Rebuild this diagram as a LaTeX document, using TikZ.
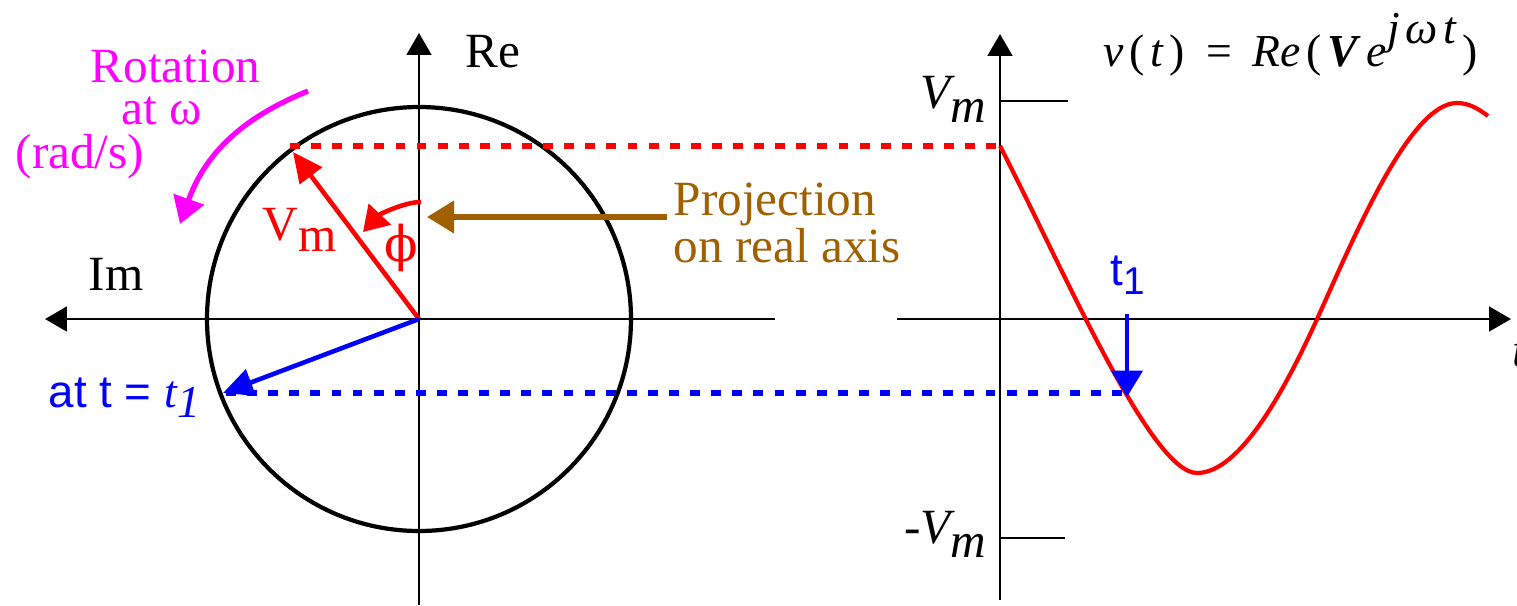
\documentclass[tikz,border=0pt]{standalone}
\usepackage{fontspec}
\setmainfont{Liberation Serif}
\setsansfont{Liberation Sans}
\newfontfamily\phifont{DejaVu Serif}
\usetikzlibrary{arrows.meta}
\definecolor{phred}{RGB}{255,0,0}
\definecolor{phblue}{RGB}{0,0,255}
\definecolor{rotmag}{RGB}{255,0,255}
\definecolor{projbrown}{RGB}{160,96,0}
\newcommand{\ls}{\hspace{1.6pt}}

\begin{document}
\begin{tikzpicture}[x=0.01cm, y=-0.01cm,
  axis/.style={-{Triangle[length=6.2pt,width=7pt]}, line width=0.7pt},
  phasor/.style={-{Triangle[length=8.5pt,width=7.8pt]}, line width=1.3pt},
  projline/.style={line width=1.5pt, dash pattern=on 2.8pt off 3.2pt},
  lbl/.style={inner sep=0pt, anchor=base west, font=\fontsize{14}{16}\selectfont},
  lble/.style={lbl, anchor=base east},
]
\useasboundingbox (0,0) rectangle (1517,605);

\coordinate (O) at (419,319);
\coordinate (imtip) at (45,319);
\coordinate (imend) at (775,319);
\coordinate (retip) at (419,33);
\coordinate (rebot) at (419,605);
\coordinate (vtip) at (293,152);
\coordinate (btip) at (223,393);
\coordinate (vstart) at (290,146);
\coordinate (c0) at (1000,146);
\coordinate (bstart) at (226,393);
\coordinate (c1) at (1124,393);
\coordinate (phis) at (421,202);
\coordinate (phie) at (363,232);
\coordinate (projs) at (667,217);
\coordinate (proje) at (427,217);
\coordinate (rots) at (308,91);
\coordinate (rote) at (180,224);
\coordinate (tstart) at (897,319);
\coordinate (ttip) at (1511,319);
\coordinate (vbot) at (1000,600);
\coordinate (vtop) at (1000,34);
\coordinate (t1top) at (1127,314);
\coordinate (t1pt) at (1127,397);

\node[lbl, rotmag] (rot1) at (90,82) {Rotation};
\node[lbl, rotmag] (rot2) at (121,124) {at ω};
\node[lbl, rotmag] (rot3) at (15,168) {(rad/s)};
\node[lbl] (relbl) at (465,67) {Re};
\node[lbl] (imlbl) at (88,290) {Im};
\node[lbl, phred] (vmlbl) at (262,240) {V\raisebox{-3.4pt}{m}};
\node[lbl, phred, anchor=center] (philbl) at (401,248) {\phifont ϕ};
\node[lbl, projbrown] (proj1) at (673,215) {Projection};
\node[lbl, projbrown] (proj2) at (673,262) {on real axis};
\node[lbl, phblue, font=\fontsize{13}{15}\selectfont\sffamily] (atlbl) at (48,407)
  {at t = \textrm{\textit{t}\raisebox{-3pt}{\textit{1}}}};

\node[lble] (vmax) at (987,108) {\textit{V\raisebox{-4pt}{m}}};
\node[lble] (vmin) at (987,543) {\textit{-V\raisebox{-4pt}{m}}};
\node[lbl] (tlbl) at (1512,366) {\textit{t}};
\node[lbl, phblue, font=\fontsize{13}{15}\selectfont\sffamily] (t1lbl) at (1110,285)
  {t\raisebox{-2.8pt}{\fontsize{11}{13}\selectfont 1}};
\node[lbl, font=\fontsize{13}{15}\selectfont] (vtlbl) at (1103,66)
  {\textit{v}\ls(\ls\textit{t}\ls)\hspace{6pt}=\hspace{6pt}\textit{Re}\ls(\ls\textbf{\textit{V}}\ls\textit{e}\raisebox{6.5pt}{\textit{j}\ls\textit{ω}\ls\textit{t}}\ls)};

\draw[axis] (imend) -- (imtip);
\draw[axis] (rebot) -- (retip);
\draw[line width=1.2pt] (O) circle[radius=212];
\draw[projline, phred] (vstart) -- (c0);
\draw[projline, phblue] (bstart) -- (c1);
\draw[phasor, phred] (O) -- (vtip);
\draw[phasor, phblue] (O) -- (btip);
\draw[-{Triangle[length=7pt,width=8.5pt]}, line width=1.3pt, phred]
  (phis) .. controls (405,202) and (380,214) .. (phie);
\draw[-{Triangle[length=7.7pt,width=9pt]}, line width=1.5pt, projbrown] (projs) -- (proje);
\draw[-{Triangle[length=7.5pt,width=9pt]}, line width=1.5pt, rotmag]
  (rots) .. controls (262,110) and (210,140) .. (rote);

\draw[axis] (tstart) -- (ttip);
\draw[axis] (vbot) -- (vtop);
\draw[line width=0.7pt] (1000,101) -- (1068,101);
\draw[line width=0.7pt] (1000,538) -- (1065,538);
\draw[line width=1.2pt, phred] (c0) .. controls (1060,262) and (1150,473) .. (1197,473)
  .. controls (1240,473) and (1285,390) .. (1318,317)
  .. controls (1355,235) and (1410,103) .. (1457,103)
  .. controls (1470,103) and (1480,110) .. (1488,116);
\draw[-{Triangle[length=7.5pt,width=8.8pt]}, line width=1.3pt, phblue] (t1top) -- (t1pt);
\end{tikzpicture}
\end{document}
